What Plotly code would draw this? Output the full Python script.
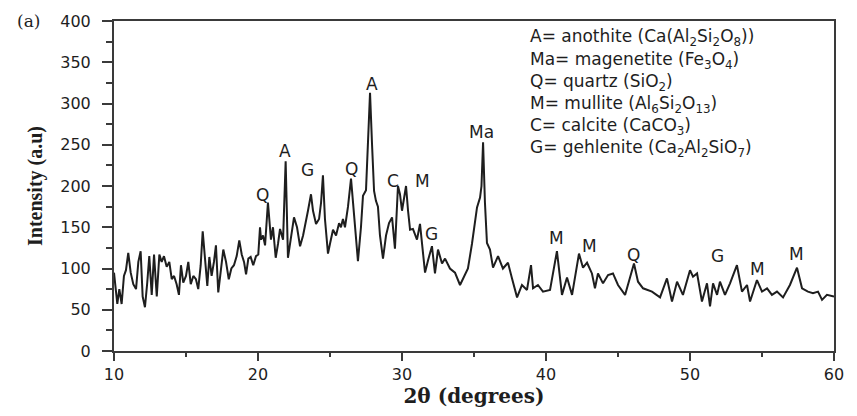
import plotly.graph_objects as go

# 2-theta (degrees) and intensity (a.u.)
two_theta = [
    10.00, 10.14, 10.23, 10.37, 10.53, 10.69, 10.83, 10.99, 11.16, 11.34, 11.53, 11.69, 11.85, 11.99,
    12.15, 12.31, 12.45, 12.62, 12.78, 12.97, 13.15, 13.31, 13.47, 13.66, 13.84, 14.01, 14.17, 14.35,
    14.51, 14.65, 14.81, 15.00, 15.16, 15.33, 15.51, 15.69, 15.85, 16.02, 16.16, 16.32, 16.48, 16.62,
    16.78, 16.94, 17.08, 17.24, 17.41, 17.59, 17.78, 17.97, 18.15, 18.33, 18.52, 18.70, 18.87, 19.03,
    19.17, 19.33, 19.49, 19.67, 19.86, 20.02, 20.14, 20.21, 20.35, 20.49, 20.69, 20.90, 21.04, 21.23,
    21.39, 21.53, 21.74, 21.92, 22.08, 22.29, 22.50, 22.71, 22.92, 23.13, 23.26, 23.47, 23.68, 23.82,
    24.03, 24.24, 24.38, 24.51, 24.65, 24.86, 25.00, 25.21, 25.42, 25.63, 25.76, 25.90, 26.04, 26.25,
    26.46, 26.67, 26.81, 26.94, 27.15, 27.29, 27.50, 27.64, 27.78, 27.92, 28.06, 28.19, 28.33, 28.47,
    28.68, 28.89, 29.10, 29.31, 29.51, 29.72, 29.86, 30.00, 30.28, 30.42, 30.56, 30.76, 31.04, 31.25,
    31.39, 31.60, 31.81, 32.08, 32.29, 32.50, 32.78, 32.99, 33.33, 33.68, 34.03, 34.38, 34.58, 34.86,
    35.21, 35.42, 35.52, 35.63, 35.76, 35.90, 36.11, 36.32, 36.67, 37.01, 37.36, 37.64, 37.99, 38.33,
    38.68, 38.96, 39.10, 39.44, 39.79, 40.28, 40.76, 41.11, 41.46, 41.81, 42.29, 42.57, 42.85, 43.19,
    43.40, 43.61, 43.96, 44.31, 44.65, 45.00, 45.49, 46.11, 46.39, 46.74, 47.36, 47.92, 48.40, 48.75,
    49.10, 49.51, 50.00, 50.21, 50.49, 50.83, 51.18, 51.39, 51.60, 51.88, 52.08, 52.43, 52.78, 53.26,
    53.61, 53.96, 54.17, 54.65, 55.00, 55.35, 55.69, 56.04, 56.46, 56.94, 57.43, 57.78, 58.19, 58.54,
    58.89, 59.17, 59.51, 60.00,
]
intensity = [
    95, 71, 57, 75, 57, 91, 98, 119, 95, 81, 75, 108, 121, 66,
    53, 83, 115, 68, 117, 66, 117, 108, 115, 102, 108, 87, 91, 81,
    68, 104, 83, 91, 108, 81, 91, 87, 75, 104, 145, 112, 79, 114,
    91, 108, 128, 71, 95, 123, 108, 87, 100, 104, 115, 134, 117, 108,
    93, 112, 114, 104, 115, 117, 150, 135, 140, 128, 180, 135, 150, 113,
    130, 148, 135, 230, 113, 140, 162, 150, 127, 140, 150, 170, 190, 170,
    154, 160, 180, 213, 160, 118, 130, 147, 140, 155, 150, 160, 150, 175,
    209, 160, 130, 109, 150, 188, 195, 250, 313, 250, 194, 182, 175, 140,
    112, 140, 155, 162, 124, 200, 190, 170, 200, 170, 147, 148, 135, 154,
    130, 95, 110, 127, 94, 123, 106, 112, 100, 95, 80, 92, 100, 130,
    174, 186, 200, 253, 180, 131, 123, 101, 115, 100, 107, 88, 65, 80,
    74, 104, 76, 80, 72, 74, 121, 68, 89, 68, 118, 101, 107, 94,
    76, 94, 82, 92, 94, 80, 68, 106, 84, 76, 72, 65, 88, 60,
    84, 68, 98, 90, 94, 60, 82, 54, 82, 68, 84, 68, 82, 104,
    72, 80, 60, 86, 72, 76, 68, 72, 65, 80, 101, 76, 72, 70,
    72, 62, 68, 66,
]

# Phase labels above peaks
peak_labels = ["Q", "A", "G", "Q", "A", "C", "M", "G", "Ma", "M", "M", "Q", "G", "M", "M"]
peak_x = [20.30, 21.88, 23.47, 26.50, 27.92, 29.38, 31.39, 32.08, 35.55, 40.75, 42.99, 46.11, 51.94, 54.72, 57.43]
peak_y = [189, 242, 219, 221, 324, 206, 206, 142, 265, 137, 127, 116, 115, 100, 118]

# Legend text lines
legend_lines = [
    "A= anothite (Ca(Al<sub>2</sub>Si<sub>2</sub>O<sub>8</sub>))",
    "Ma= magenetite (Fe<sub>3</sub>O<sub>4</sub>)",
    "Q= quartz (SiO<sub>2</sub>)",
    "M= mullite (Al<sub>6</sub>Si<sub>2</sub>O<sub>13</sub>)",
    "C= calcite (CaCO<sub>3</sub>)",
    "G= gehlenite (Ca<sub>2</sub>Al<sub>2</sub>SiO<sub>7</sub>)",
]
legend_x = 38.75
legend_y = [380, 352, 325, 299, 272, 245]

y_ticks = [0, 50, 100, 150, 200, 250, 300, 350, 400]
x_ticks = [10, 20, 30, 40, 50, 60]

INK = "#1e1e1e"
AX = "#3a3a3a"

fig = go.Figure()
fig.add_trace(go.Scatter(
    x=two_theta, y=intensity, mode="lines",
    line=dict(color=INK, width=2),
    showlegend=False, hoverinfo="skip",
))

annotations = []
for t, x, y in zip(peak_labels, peak_x, peak_y):
    annotations.append(dict(
        x=x, y=y, xref="x", yref="y", text=t, showarrow=False,
        font=dict(family="DejaVu Sans", size=17, color=INK),
        xanchor="center", yanchor="middle",
    ))
for t, y in zip(legend_lines, legend_y):
    annotations.append(dict(
        x=legend_x, y=y, xref="x", yref="y", text=t, showarrow=False,
        font=dict(family="DejaVu Sans", size=17, color=INK),
        xanchor="left", yanchor="middle",
    ))
annotations.append(dict(
    x=(28 - 114) / 720, y=1.0, xref="paper", yref="paper", text="(a)",
    showarrow=False, font=dict(family="DejaVu Serif", size=17, color=INK),
    xanchor="center", yanchor="middle",
))

fig.update_layout(
    width=857, height=416,
    margin=dict(l=114, r=23, t=18, b=58),
    plot_bgcolor="white", paper_bgcolor="white",
    annotations=annotations,
    showlegend=False,
)
fig.update_xaxes(
    range=[10, 60], tickvals=x_ticks, ticktext=[str(v) for v in x_ticks],
    showgrid=False, zeroline=False,
    showline=True, linecolor=AX, linewidth=2, mirror=True,
    ticks="outside", ticklen=8, tickwidth=2, tickcolor=AX,
    minor=dict(ticks="outside", dtick=5, tick0=10, ticklen=4, tickwidth=2, tickcolor=AX),
    tickfont=dict(family="DejaVu Sans", size=16, color=INK),
    title=dict(text="<b>2θ (degrees)</b>", font=dict(family="DejaVu Serif", size=20, color=INK), standoff=6),
)
fig.update_yaxes(
    range=[0, 400], tickvals=y_ticks, ticktext=[str(v) for v in y_ticks],
    showgrid=False, zeroline=False,
    showline=True, linecolor=AX, linewidth=2, mirror=True,
    ticks="outside", ticklen=10, tickwidth=2, tickcolor=AX,
    minor=dict(ticks="outside", dtick=25, tick0=0, ticklen=6, tickwidth=2, tickcolor=AX),
    tickfont=dict(family="DejaVu Sans", size=16, color=INK),
    ticklabelstandoff=8,
    title=dict(text="<b>Intensity (a.u)</b>", font=dict(family="Liberation Serif", size=20, color=INK), standoff=12),
)

fig.write_html("out.html")
